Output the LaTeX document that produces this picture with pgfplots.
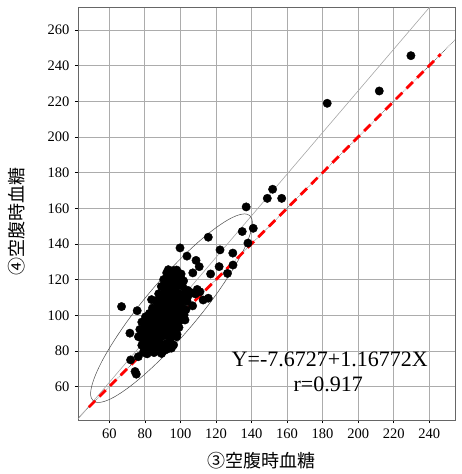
\documentclass[border=0pt]{standalone}
\usepackage{pgfplots}
\pgfplotsset{compat=1.18}
\usepackage{pgfplotstable}
\usepackage{fontspec}
\setmainfont{Liberation Serif}
\newfontfamily\cjk{Noto Sans CJK JP}
\pgfplotstableread{
x y
66.9 104.9
75.7 102.6
83.8 108.8
71.6 90.0
72.0 75.0
74.5 68.5
75.2 67.0
76.3 76.8
99.8 137.8
103.7 133.2
108.8 130.8
110.6 127.3
107.0 123.8
115.7 143.8
122.3 136.7
117.0 123.2
121.8 127.3
126.5 123.5
129.6 128.2
129.5 134.9
138.0 140.5
134.8 147.0
141.0 148.8
137.0 160.8
151.9 170.7
148.9 165.6
157.0 165.6
182.6 218.9
211.9 225.8
229.7 245.6
115.7 109.6
111.0 113.2
112.8 108.6
106.9 105.3
102.6 97.4
97.9 88.0
93.2 81.3
88.5 79.6
81.0 79.6
104.2 114.0
106.3 112.6
108.4 112.0
109.5 114.5
104.0 110.2
97.9 125.4
97.0 120.8
93.2 125.6
79.2 79.3
81.3 78.4
83.1 80.6
85.2 79.1
87.0 81.2
89.4 78.6
91.2 80.4
95.0 81.6
78.3 83.2
80.1 84.4
82.2 85.1
84.1 83.3
86.2 84.4
88.0 85.3
90.3 83.1
92.1 84.2
94.2 85.3
96.2 83.4
76.4 88.0
78.2 87.2
80.3 89.1
82.1 87.4
84.2 88.3
86.1 89.2
88.2 87.1
90.1 88.3
92.3 89.4
94.1 87.2
96.3 88.4
98.1 89.3
77.2 92.1
79.1 91.2
81.3 93.3
83.1 92.1
85.2 91.3
87.1 93.4
89.3 92.2
91.2 91.1
93.1 93.3
95.3 92.1
97.1 91.4
99.2 93.2
78.3 96.2
80.2 95.3
82.1 97.1
84.3 96.2
86.2 95.1
88.1 97.3
90.2 96.1
92.3 95.2
94.1 97.4
96.2 96.1
98.3 95.2
100.1 97.3
80.4 99.2
82.6 101.1
84.2 100.3
86.1 99.2
88.3 101.3
90.1 100.2
92.2 99.1
94.3 101.2
96.1 100.3
98.2 99.4
100.3 101.1
102.1 100.2
84.3 104.1
85.8 103.2
87.2 105.3
89.1 104.2
91.3 103.1
93.2 105.2
95.1 104.3
97.3 103.2
99.1 105.1
101.2 104.3
103.1 103.1
86.4 108.1
88.2 107.2
90.1 109.3
92.3 108.1
94.2 107.2
96.1 109.4
98.3 108.2
100.1 107.1
102.2 109.2
103.8 107.8
87.8 112.1
89.2 111.3
91.1 113.2
93.3 112.1
95.2 111.2
97.1 113.4
99.3 112.2
101.1 111.1
103.0 113.2
89.3 116.2
91.2 115.1
93.1 117.3
95.3 116.2
97.2 115.1
99.1 117.2
101.2 116.3
90.6 120.1
92.2 119.2
94.1 121.3
96.3 120.2
98.1 119.1
100.2 121.2
101.8 119.3
92.3 123.8
94.2 122.9
96.1 125.1
98.3 124.2
100.4 123.2
91.0 94.0
93.0 97.0
95.0 99.0
89.0 95.0
87.0 90.0
91.0 106.0
93.0 110.0
95.0 114.0
97.0 106.0
99.0 110.0
85.0 86.0
83.0 90.0
81.0 82.0
89.0 82.5
94.0 90.0
96.0 94.0
}\pts
\begin{document}
\begin{tikzpicture}
\begin{axis}[
  scale only axis,
  width=377pt, height=413pt,
  xmin=42.4, xmax=254.5, ymin=41.3, ymax=272.9,
  xtick={60,80,...,240}, ytick={60,80,...,260},
  tick pos=left, tick align=outside,
  major tick length=3pt,
  tick style={black, line width=0.6pt},
  grid=major,
  major grid style={gray!65, line width=0.8pt},
  axis line style={gray!80!black, line width=0.7pt},
  /pgf/number format/assume math mode=true,
  ticklabel style={font=\fontsize{14.5}{16}\selectfont},
  xticklabel style={yshift=-2pt},
  yticklabel style={xshift=-2pt},
  xlabel={\cjk\fontsize{18}{20}\selectfont ③空腹時血糖},
  ylabel={\cjk\fontsize{18}{20}\selectfont ④空腹時血糖},
  every axis x label/.style={at={(axis description cs:0.5,0)}, anchor=center, xshift=-5.5pt, yshift=-41pt},
  every axis y label/.style={at={(axis description cs:0,0.5)}, anchor=center, rotate=90, xshift=-8.5pt, yshift=61.3pt},
  clip=true,
]
% identity line (thin dotted)
\addplot[gray!60!black, densely dotted, line width=0.6pt] coordinates {(41.3,41.3) (254.5,254.5)};
% regression line
\addplot[gray!70, line width=0.6pt] coordinates {(42.4,41.83) (240.3,272.9)};
% ellipse
\addplot[gray!60!black, line width=0.5pt, smooth cycle, tension=0.6] coordinates {
(139.0,156.0) (134.5,156.7) (127.4,153.9) (118.0,147.6) (107.1,138.4) (95.3,126.8)
(83.5,113.7) (72.5,99.9) (63.1,86.4) (55.8,74.1) (51.2,63.8) (49.5,56.3)
(51.0,52.0) (55.5,51.3) (62.6,54.1) (72.0,60.4) (82.9,69.6) (94.7,81.2)
(106.5,94.3) (117.5,108.1) (126.9,121.6) (134.2,133.9) (138.8,144.2) (140.5,151.7)};
% red dashed line
\addplot[red, line width=2.8pt, dash pattern=on 9pt off 6pt] coordinates {(48.5,48.5) (246.5,246.5)};
% points
\addplot[only marks, mark=*, mark size=4.2pt, black] table[x=x,y=y] {\pts};
\node[font=\fontsize{22}{24}\selectfont] at (axis cs:184,75.5) {Y=-7.6727+1.16772X};
\node[font=\fontsize{22}{24}\selectfont] at (axis cs:183.2,61.5) {r=0.917};
\end{axis}
\pgfresetboundingbox
\path ([xshift=-78pt,yshift=-54pt]current axis.south west) rectangle ([xshift=6pt,yshift=7pt]current axis.north east);
\end{tikzpicture}
\end{document}
